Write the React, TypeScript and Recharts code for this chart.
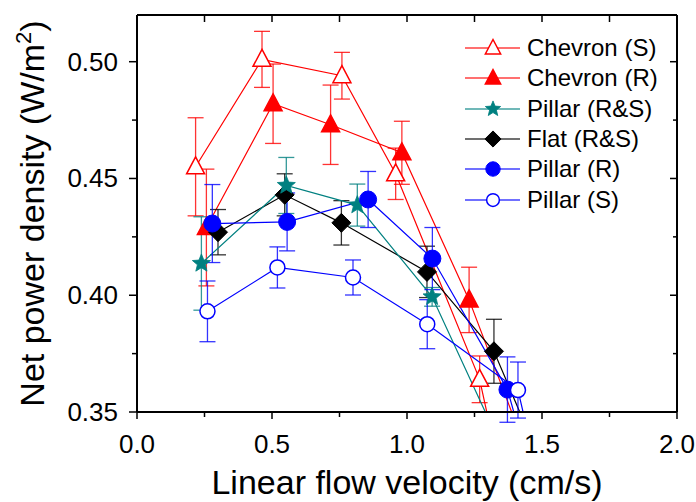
import React from 'react';
import { LineChart, Line, XAxis, YAxis, ErrorBar, Legend, Label } from 'recharts';

// velocities (cm/s), power densities (W/m2) and error bars per series
const xChevronS = [0.217, 0.463, 0.759, 0.958, 1.269, 1.32];
const yChevronS = [0.455, 0.501, 0.494, 0.452, 0.364, 0.337];
const eChevronS = [0.021, 0.012, 0.01, 0.011, 0.01, 0];

const xChevronR = [0.257, 0.504, 0.717, 0.981, 1.23, 1.45];
const yChevronR = [0.429, 0.482, 0.473, 0.461, 0.398, 0.331];
const eChevronR = [0.025, 0.017, 0.017, 0.0135, 0.014, 0];

const xPillarRS = [0.2385, 0.553, 0.816, 1.093, 1.35];
const yPillarRS = [0.4136, 0.447, 0.4386, 0.3993, 0.335];
const ePillarRS = [0.02, 0.012, 0.009, 0.004, 0];

const xFlat = [0.3, 0.547, 0.757, 1.074, 1.322, 1.48];
const yFlat = [0.427, 0.443, 0.431, 0.41, 0.376, 0.333];
const eFlat = [0.0097, 0.009, 0.0095, 0.011, 0.0137, 0];

const xPillarR = [0.279, 0.556, 0.856, 1.094, 1.372, 1.42];
const yPillarR = [0.4307, 0.4314, 0.441, 0.4157, 0.3596, 0.34];
const ePillarR = [0.0167, 0.0124, 0.012, 0.0133, 0.014, 0];

const xPillarS = [0.261, 0.52, 0.8, 1.075, 1.411, 1.45];
const yPillarS = [0.3931, 0.4119, 0.4076, 0.3876, 0.3594, 0.34];
const ePillarS = [0.013, 0.0088, 0.0075, 0.0105, 0.012, 0];

const xTicks = [0, 0.25, 0.5, 0.75, 1, 1.25, 1.5, 1.75, 2];
const yTicks = [0.35, 0.375, 0.4, 0.425, 0.45, 0.475, 0.5];

const FONT = '"Liberation Sans", Arial, sans-serif';

const zip = (xs: number[], ys: number[], es: number[]) =>
  xs.map((x, i) => ({ x, y: ys[i], e: es[i] }));

const series = [
  { name: 'Chevron (S)', color: '#ff0000', kind: 'triOpen', data: zip(xChevronS, yChevronS, eChevronS) },
  { name: 'Chevron (R)', color: '#ff0000', kind: 'tri', data: zip(xChevronR, yChevronR, eChevronR) },
  { name: 'Flat (R&S)', color: '#000000', kind: 'diamond', data: zip(xFlat, yFlat, eFlat) },
  { name: 'Pillar (R&S)', color: '#008080', kind: 'star', data: zip(xPillarRS, yPillarRS, ePillarRS) },
  { name: 'Pillar (R)', color: '#0000ff', kind: 'circle', data: zip(xPillarR, yPillarR, ePillarR) },
  { name: 'Pillar (S)', color: '#0000ff', kind: 'circleOpen', data: zip(xPillarS, yPillarS, ePillarS) },
];

const legendOrder = ['Chevron (S)', 'Chevron (R)', 'Pillar (R&S)', 'Flat (R&S)', 'Pillar (R)', 'Pillar (S)'];

const Marker = ({ kind, color, cx, cy, s = 1 }: any) => {
  if (cx == null || cy == null) return null;
  if (kind === 'tri' || kind === 'triOpen') {
    const pts = `${cx},${cy - 10 * s} ${cx + 9 * s},${cy + 7 * s} ${cx - 9 * s},${cy + 7 * s}`;
    return <polygon points={pts} fill={kind === 'tri' ? color : '#fff'} stroke={color} strokeWidth={1.5} />;
  }
  if (kind === 'diamond') {
    const r = 9.5 * s;
    const pts = `${cx},${cy - r} ${cx + r},${cy} ${cx},${cy + r} ${cx - r},${cy}`;
    return <polygon points={pts} fill={color} stroke={color} strokeWidth={1} />;
  }
  if (kind === 'star') {
    const pts: string[] = [];
    for (let i = 0; i < 10; i++) {
      const r = (i % 2 === 0 ? 9.5 : 4.2) * s;
      const a = -Math.PI / 2 + (i * Math.PI) / 5;
      pts.push(`${cx + r * Math.cos(a)},${cy + r * Math.sin(a)}`);
    }
    return <polygon points={pts.join(' ')} fill={color} stroke={color} strokeWidth={0.8} />;
  }
  if (kind === 'circleOpen') {
    return <circle cx={cx} cy={cy} r={7.5 * s} fill="#fff" stroke={color} strokeWidth={1.5} />;
  }
  return <circle cx={cx} cy={cy} r={8.5 * s} fill={color} stroke={color} strokeWidth={1} />;
};

const BottomTick = ({ x, y, payload }: any) => {
  const v = payload.value;
  const major = Math.abs(v * 2 - Math.round(v * 2)) < 1e-6;
  return (
    <g>
      <line x1={x} x2={x} y1={y} y2={y + (major ? 7 : 5)} stroke="#000" strokeWidth={1.5} />
      {major && (
        <text x={x} y={y + 41} textAnchor="middle" fontSize={26} fontFamily={FONT} fill="#000">
          {v.toFixed(1)}
        </text>
      )}
    </g>
  );
};

const TopTick = ({ x, y }: any) => (
  <line x1={x} x2={x} y1={y} y2={y + 7} stroke="#000" strokeWidth={1.5} />
);

const LeftTick = ({ x, y, payload }: any) => {
  const v = payload.value;
  const major = Math.abs(v * 20 - Math.round(v * 20)) < 1e-6;
  return (
    <g>
      <line x1={x - (major ? 8 : 5)} x2={x} y1={y} y2={y} stroke="#000" strokeWidth={1.5} />
      {major && (
        <text x={x - 19} y={y + 9} textAnchor="end" fontSize={26} fontFamily={FONT} fill="#000">
          {v.toFixed(2)}
        </text>
      )}
    </g>
  );
};

const RightTick = ({ x, y, payload }: any) => {
  const v = payload.value;
  const major = Math.abs(v * 20 - Math.round(v * 20)) < 1e-6;
  return <line x1={x - (major ? 7 : 4)} x2={x} y1={y} y2={y} stroke="#000" strokeWidth={1.5} />;
};

const renderLegend = () => (
  <div style={{ fontFamily: FONT, fontSize: 24, color: '#000' }}>
    {legendOrder.map((name) => {
      const s = series.find((d) => d.name === name)!;
      return (
        <div key={name} style={{ display: 'flex', alignItems: 'center', height: 30.3 }}>
          <svg width={60} height={30} style={{ display: 'block' }}>
            <line x1={2} x2={57} y1={15} y2={15} stroke={s.color} strokeWidth={1.3} strokeOpacity={0.75} />
            <Marker kind={s.kind} color={s.color} cx={30} cy={15} s={0.85} />
          </svg>
          <span style={{ marginLeft: 4, whiteSpace: 'nowrap' }}>{name}</span>
        </div>
      );
    })}
  </div>
);

const XTitle = ({ viewBox }: any) => (
  <text x={viewBox.x + viewBox.width / 2} y={viewBox.y + 82} textAnchor="middle" fontSize={34} fontFamily={FONT} fill="#000">
    Linear flow velocity (cm/s)
  </text>
);

const YTitle = ({ viewBox }: any) => {
  const cx = 44;
  const cy = viewBox.y + viewBox.height / 2;
  return (
    <text x={cx} y={cy} transform={`rotate(-90, ${cx}, ${cy})`} textAnchor="middle" fontSize={34} fontFamily={FONT} fill="#000">
      Net power density (W/m<tspan dy={-13} fontSize={22}>2</tspan><tspan dy={13}>)</tspan>
    </text>
  );
};

export default function App() {
  return (
    <div style={{ position: 'absolute', left: 0, top: 0, background: '#fff' }}>
      <LineChart width={696} height={502} margin={{ top: 0, right: 0, bottom: 0, left: 0 }}>
        <XAxis
          xAxisId="b"
          type="number"
          dataKey="x"
          domain={[0, 2]}
          ticks={xTicks}
          interval={0}
          allowDataOverflow
          height={90}
          tickSize={0}
          tickMargin={0}
          tickLine={false}
          tick={<BottomTick />}
          axisLine={{ stroke: '#000', strokeWidth: 2 }}
        >
          <Label content={<XTitle />} />
        </XAxis>
        <XAxis
          xAxisId="t"
          orientation="top"
          type="number"
          dataKey="x"
          domain={[0, 2]}
          ticks={xTicks}
          interval={0}
          allowDataOverflow
          height={15}
          tickSize={0}
          tickMargin={0}
          tickLine={false}
          tick={<TopTick />}
          axisLine={{ stroke: '#000', strokeWidth: 2 }}
        />
        <YAxis
          yAxisId="l"
          type="number"
          domain={[0.35, 0.52]}
          ticks={yTicks}
          interval={0}
          allowDataOverflow
          width={137}
          tickSize={0}
          tickMargin={0}
          tickLine={false}
          tick={<LeftTick />}
          axisLine={{ stroke: '#000', strokeWidth: 2 }}
        >
          <Label content={<YTitle />} />
        </YAxis>
        <YAxis
          yAxisId="r"
          orientation="right"
          type="number"
          domain={[0.35, 0.52]}
          ticks={yTicks}
          interval={0}
          allowDataOverflow
          width={19}
          tickSize={0}
          tickMargin={0}
          tickLine={false}
          tick={<RightTick />}
          axisLine={{ stroke: '#000', strokeWidth: 2 }}
        />
        <Legend
          layout="vertical"
          align="center"
          verticalAlign="middle"
          content={renderLegend}
          wrapperStyle={{ top: 33, left: 463, width: 230 }}
        />
        {series.map((s) => (
          <Line
            key={s.name}
            xAxisId="b"
            yAxisId="l"
            data={s.data}
            dataKey="y"
            name={s.name}
            type="linear"
            stroke={s.color}
            strokeWidth={1.2}
            isAnimationActive={false}
            dot={(p: any) => <Marker key={`${s.name}-${p.index}`} kind={s.kind} color={s.color} cx={p.cx} cy={p.cy} />}
            activeDot={false}
          >
            <ErrorBar dataKey="e" direction="y" width={8} stroke={s.color} strokeWidth={1.3} strokeOpacity={0.8} isAnimationActive={false} />
          </Line>
        ))}
      </LineChart>
    </div>
  );
}
